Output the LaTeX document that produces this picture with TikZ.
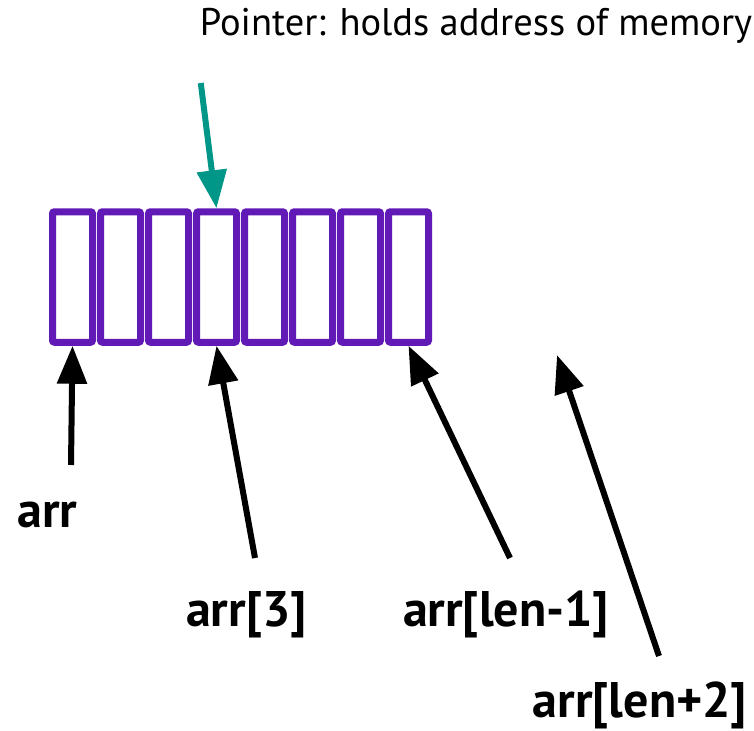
\documentclass[tikz,border=0pt]{standalone}
\usepackage{fontspec}
\setmainfont{PT Sans}
\usetikzlibrary{arrows.meta}

\definecolor{cellpurple}{RGB}{98,26,183}
\definecolor{ptrteal}{RGB}{0,150,136}

\tikzset{
  cell/.style={draw=cellpurple, line width=7pt, rounded corners=2pt,
    minimum width=40pt, minimum height=130.5pt, inner sep=0pt},
  idx/.style={anchor=base, inner sep=1pt, font=\fontsize{50}{52}\selectfont\bfseries},
  ptr/.style={-{Triangle[length=38pt,width=29pt]}, line width=6pt}
}

\begin{document}
\begin{tikzpicture}[x=1pt, y=-1pt]
  \useasboundingbox (0,0) rectangle (754,730);

  % The array: eight cells side by side.
  \foreach \i in {0,...,7} {
    \node[cell] (c\i) at ({72.5+48*\i},277) {};
  }
  % Where arr[len+2] would sit, past the end.
  \coordinate (c10) at (557,355);

  % Pointer note and its arrow onto arr[3].
  \node[anchor=base, inner sep=1pt, font=\fontsize{38.5}{40}\selectfont] (note) at (476,36)
    {Pointer: holds address of memory};
  \draw[ptr, draw=ptrteal] ([shift={(2,47)}]note.base west) -- (c3.north);

  % Index labels.
  \node[idx] (l0) at (47.5,527) {arr};
  \node[idx] (l3) at (246.5,626) {arr[3]};
  \node[idx] (l7) at (506,626) {arr[len-1]};
  \node[idx] (l10) at (640,717) {arr[len+2]};

  \draw[ptr] ([shift={(23.5,-62)}]l0.base) -- (c0.south);
  \draw[ptr] ([shift={(8.5,-68)}]l3.base) -- (c3.south);
  \draw[ptr] ([shift={(4,-68)}]l7.base) -- (c7.south);
  \draw[ptr] ([shift={(19,-61)}]l10.base) -- (c10);

\end{tikzpicture}
\end{document}
